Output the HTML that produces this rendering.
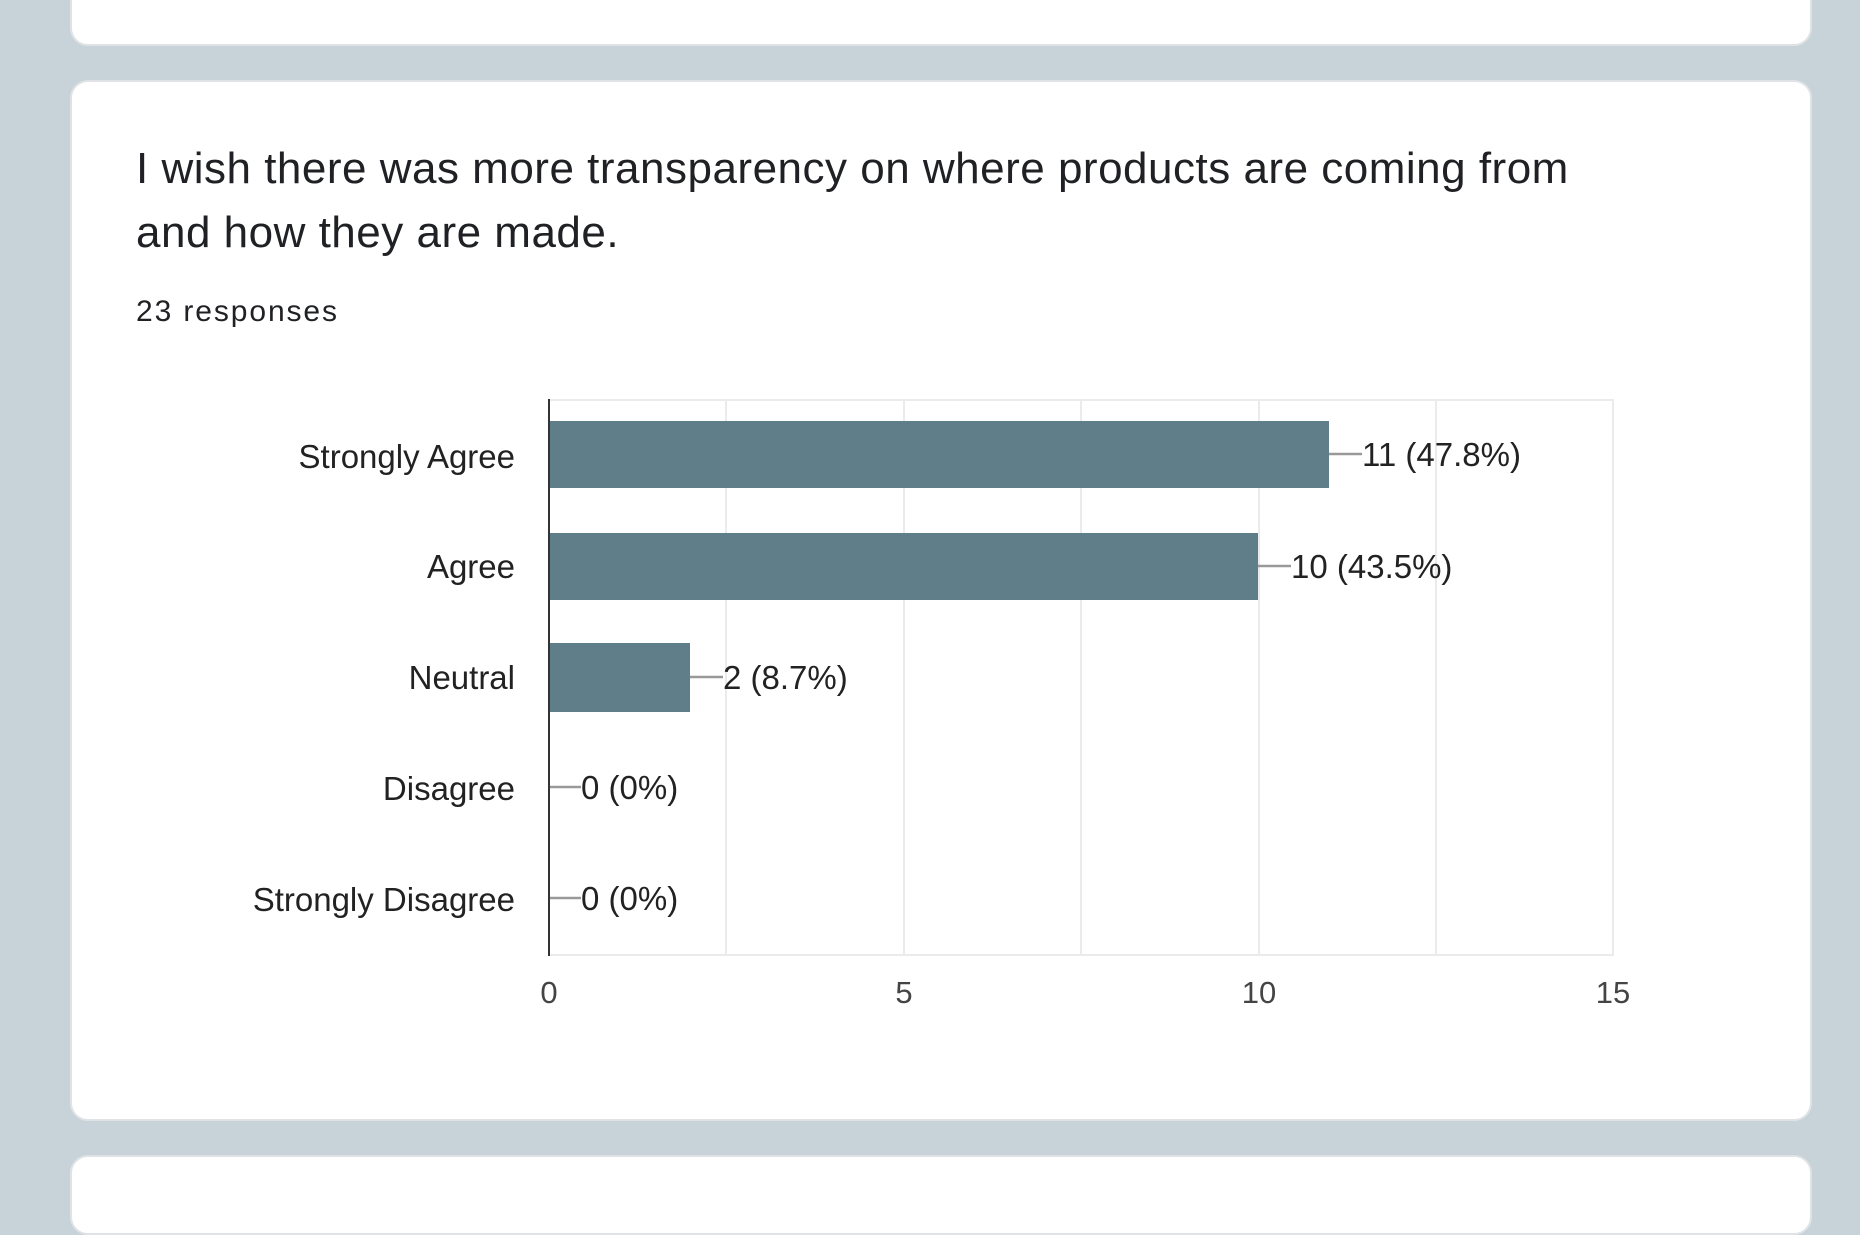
<!DOCTYPE html>
<html><head><meta charset="utf-8"><style>
html,body{margin:0;padding:0;}
body{width:1860px;height:1192px;background:#c7d3d8;position:relative;overflow:hidden;font-family:"Liberation Sans",Arial,sans-serif;}
.card{position:absolute;left:70px;width:1742px;background:#fff;border:2px solid #dfe3e6;border-radius:18px;box-sizing:border-box;}
.t{position:absolute;left:136px;font-size:44px;color:#202124;letter-spacing:0.5px;white-space:nowrap;}
</style></head><body>
<div class="card" style="top:-40px;height:86px;"></div>
<div class="card" style="top:80px;height:1041px;"></div>
<div class="card" style="top:1155px;height:80px;"></div>
<div class="t" style="top:144px;">I wish there was more transparency on where products are coming from</div>
<div class="t" style="top:208px;">and how they are made.</div>
<div style="position:absolute;left:136px;top:295px;font-size:30px;letter-spacing:1.9px;color:#202124;">23 responses</div>
<svg style="position:absolute;left:0;top:0" width="1860" height="1192" font-family="Liberation Sans, Arial, sans-serif">
<g stroke="#ebebeb" stroke-width="2">
<line x1="549" y1="400" x2="1614" y2="400"/>
<line x1="726" y1="400" x2="726" y2="955"/>
<line x1="904" y1="400" x2="904" y2="955"/>
<line x1="1081" y1="400" x2="1081" y2="955"/>
<line x1="1259" y1="400" x2="1259" y2="955"/>
<line x1="1436" y1="400" x2="1436" y2="955"/>
<line x1="1613" y1="400" x2="1613" y2="955"/>
<line x1="549" y1="955" x2="1614" y2="955"/>
</g>
<g fill="#607d8a">
<rect x="549" y="421" width="780" height="67"/>
<rect x="549" y="533" width="709" height="67"/>
<rect x="549" y="643" width="141" height="69"/>
</g>
<line x1="549" y1="399" x2="549" y2="956" stroke="#333" stroke-width="2"/>
<g stroke="#999" stroke-width="2.5">
<line x1="1329" y1="454" x2="1362" y2="454"/>
<line x1="1258" y1="566" x2="1291" y2="566"/>
<line x1="690" y1="677" x2="723" y2="677"/>
<line x1="550" y1="787" x2="581" y2="787"/>
<line x1="550" y1="898" x2="581" y2="898"/>
</g>
<g font-size="33" fill="#222">
<text x="1362" y="466">11 (47.8%)</text>
<text x="1291" y="578">10 (43.5%)</text>
<text x="723" y="689">2 (8.7%)</text>
<text x="581" y="799">0 (0%)</text>
<text x="581" y="910">0 (0%)</text>
</g>
<g font-size="33" fill="#222" text-anchor="end">
<text x="515" y="468">Strongly Agree</text>
<text x="515" y="578">Agree</text>
<text x="515" y="689">Neutral</text>
<text x="515" y="800">Disagree</text>
<text x="515" y="911">Strongly Disagree</text>
</g>
<g font-size="31" fill="#444" text-anchor="middle">
<text x="549" y="1003">0</text>
<text x="904" y="1003">5</text>
<text x="1259" y="1003">10</text>
<text x="1613" y="1003">15</text>
</g>
</svg>
</body></html>
